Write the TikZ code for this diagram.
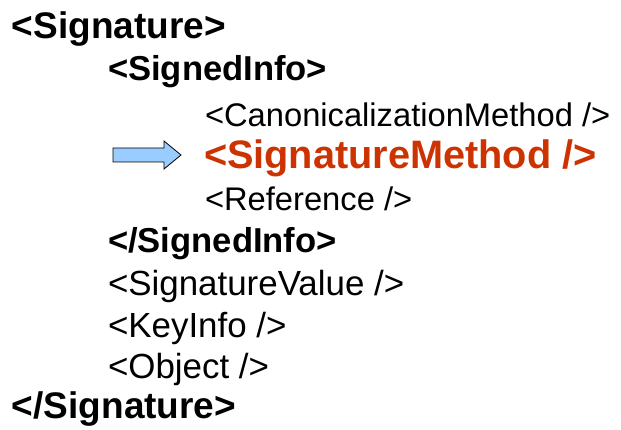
\documentclass[tikz,border=0pt]{standalone}
\usepackage{fontspec}
\setmainfont{Liberation Sans}
\definecolor{tagred}{HTML}{CC3300}
\definecolor{arrowfill}{HTML}{99CCFF}
\begin{document}
\begin{tikzpicture}[x=1pt,y=-1pt,
  line/.style={anchor=base west,inner sep=0pt,outer sep=0pt},
  tagtop/.style={line,font=\fontsize{37}{40}\selectfont\bfseries},
  tagbold/.style={line,font=\fontsize{34.6}{40}\selectfont\bfseries},
  tagmid/.style={line,font=\fontsize{34.9}{38}\selectfont},
  tagplain/.style={line,font=\fontsize{32.7}{38}\selectfont},
  taghot/.style={line,font=\fontsize{39.7}{44}\selectfont\bfseries,text=tagred}]
\useasboundingbox[fill=white] (0,0) rectangle (621,430);
\node[tagtop]   (sig)     at (12,39)   {<Signature>};
\node[tagbold]  (si)      at (108,81)  {<SignedInfo>};
\node[tagplain] (canon)   at (205,127) {<CanonicalizationMethod />};
\node[taghot]   (sm)      at (204,169) {<SignatureMethod />};
\node[tagplain] (ref)     at (205,211) {<Reference />};
\node[tagbold]  (sie)     at (108,253) {</SignedInfo>};
\node[tagmid]   (sv)      at (108,295) {<SignatureValue />};
\node[tagmid]   (ki)      at (108,337) {<KeyInfo />};
\node[tagmid]   (obj)     at (108,378) {<Object />};
\node[tagtop]   (sige)    at (12,418)  {</Signature>};
% pointer arrow in front of the highlighted element
\draw[fill=arrowfill,draw=black,line width=0.8pt,line join=miter]
  (113,148) -- (164,148) -- (164,141) -- (181,155) -- (164,169) -- (164,162) -- (113,162) -- cycle;
\end{tikzpicture}
\end{document}
